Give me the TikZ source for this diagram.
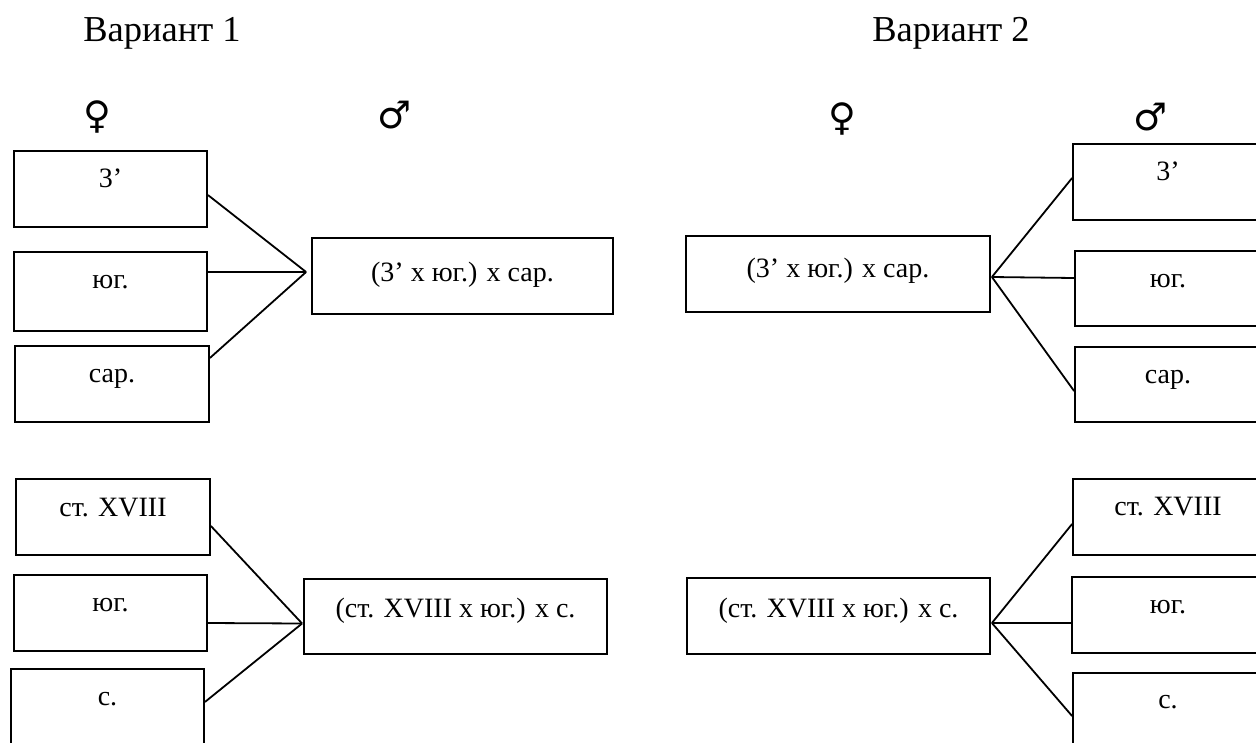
\documentclass[tikz,border=0pt]{standalone}
\usepackage{fontspec}
\setmainfont{Liberation Serif}
\newfontfamily\symfont{DejaVu Sans}
\begin{document}
\begin{tikzpicture}[x=1pt,y=-1pt,
  box/.style={draw=black, line width=1.8pt, rectangle, inner sep=0pt},
  link/.style={draw=black, line width=1.8pt},
  txt/.style={inner sep=0pt, anchor=base, font=\fontsize{28}{32}\selectfont},
  head/.style={inner sep=0pt, anchor=base, font=\fontsize{36.5}{42}\selectfont},
  sym/.style={inner sep=0pt, font=\symfont\fontsize{38}{44}\selectfont}]
\useasboundingbox (0,0) rectangle (1256,742);
\fill[white] (0,0) rectangle (1256,742);
\clip (0,0) rectangle (1256,742);

% headings and symbols
\node[head] (h1) at (162,41) {Вариант 1};
\node[head] (h2) at (951,41) {Вариант 2};
\node[sym] (f1) at (97,117) {♀};
\node[sym] (m1) at (395,115) {♂};
\node[sym] (f2) at (842,119) {♀};
\node[sym] (m2) at (1151,117) {♂};

% ---- Variant 1, top
\node[box, minimum width=193pt, minimum height=76pt] (a1) at (110.5,189) {};
\node[box, minimum width=193pt, minimum height=79pt] (a2) at (110.5,291.5) {};
\node[box, minimum width=194pt, minimum height=76pt] (a3) at (112,384) {};
\node[box, minimum width=301pt, minimum height=76pt] (A) at (462.5,276) {};
\node[txt] (ta1) at (110.5,187) {3’};
\node[txt] (ta2) at (110.5,288) {юг.};
\node[txt] (ta3) at (112,382) {сар.};
\node[txt] (tA) at (462.5,281) {(3’ x юг.) x сар.};
\coordinate (J1) at ([xshift=-5pt,yshift=4pt]A.west);
\draw[link] ([yshift=-6pt]a1.east) -- (J1);
\draw[link] ([yshift=19.5pt]a2.east) -- (J1);
\draw[link] ([yshift=26pt]a3.east) -- (J1);

% ---- Variant 2, top
\node[box, minimum width=304pt, minimum height=76pt] (B) at (838,274) {};
\node[box, minimum width=190pt, minimum height=76pt] (b1) at (1168,182) {};
\node[box, minimum width=188pt, minimum height=75pt] (b2) at (1169,288.5) {};
\node[box, minimum width=188pt, minimum height=75pt] (b3) at (1169,384.5) {};
\node[txt] (tB) at (838,277) {(3’ x юг.) x сар.};
\node[txt] (tb1) at (1168,180) {3’};
\node[txt] (tb2) at (1168,287) {юг.};
\node[txt] (tb3) at (1168,383) {сар.};
\coordinate (K1) at ([xshift=1pt,yshift=-3pt]B.east);
\draw[link] (K1) -- ([yshift=4pt]b1.west);
\draw[link] (K1) -- ([yshift=10.5pt]b2.west);
\draw[link] (K1) -- ([yshift=-6.5pt]b3.west);

% ---- Variant 1, bottom
\node[box, minimum width=194pt, minimum height=76pt] (c1) at (113,517) {};
\node[box, minimum width=193pt, minimum height=76pt] (c2) at (110.5,613) {};
\node[box, minimum width=193pt, minimum height=76pt] (c3) at (107.5,707) {};
\node[box, minimum width=303pt, minimum height=75pt] (C) at (455.5,616.5) {};
\node[txt] (tc1) at (113,516) {ст. XVIII};
\node[txt] (tc2) at (110.5,611) {юг.};
\node[txt] (tc3) at (107.5,705) {с.};
\node[txt] (tC) at (455.5,617) {(ст. XVIII x юг.) x с.};
\coordinate (L1) at ([xshift=-1pt,yshift=-7pt]C.west);
\draw[link] ([yshift=-9pt]c1.east) -- (L1);
\draw[link] ([yshift=-10pt]c2.east) -- (L1);
\draw[link] ([yshift=5pt]c3.east) -- (L1);

% ---- Variant 2, bottom
\node[box, minimum width=303pt, minimum height=76pt] (D) at (838.5,616) {};
\node[box, minimum width=190pt, minimum height=76pt] (d1) at (1168,517) {};
\node[box, minimum width=191pt, minimum height=76pt] (d2) at (1167.5,615) {};
\node[box, minimum width=190pt, minimum height=76pt] (d3) at (1168,711) {};
\node[txt] (tD) at (838.5,617) {(ст. XVIII x юг.) x с.};
\node[txt] (td1) at (1168,515) {ст. XVIII};
\node[txt] (td2) at (1168,613) {юг.};
\node[txt] (td3) at (1168,708) {с.};
\coordinate (M1) at ([xshift=1pt,yshift=-7pt]D.east);
\draw[link] (M1) -- ([yshift=-7pt]d1.west);
\draw[link] (M1) -- ([yshift=-8pt]d2.west);
\draw[link] (M1) -- ([yshift=-5pt]d3.west);
\end{tikzpicture}
\end{document}
